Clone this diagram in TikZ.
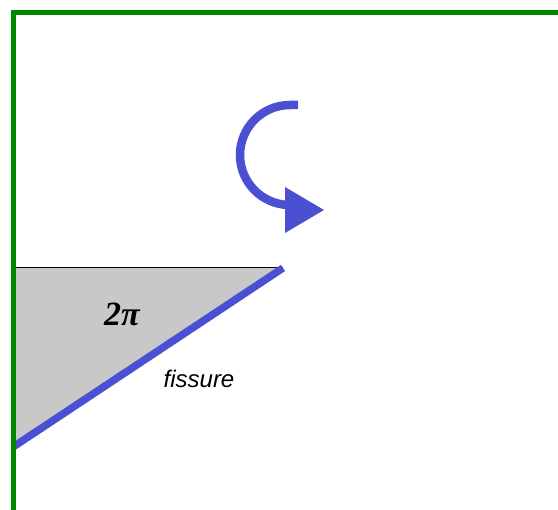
\documentclass[tikz,border=0pt]{standalone}
\usepackage{fontspec}
\setmainfont{Liberation Serif}
\newfontfamily\arialfont{Liberation Sans}
\definecolor{framegreen}{HTML}{008800}
\definecolor{fissblue}{HTML}{4B50D2}
\definecolor{wedgegray}{HTML}{C8C8C8}
\tikzset{
  frameline/.style={draw=framegreen, line width=5pt},
  fissline/.style={draw=fissblue, line width=7.5pt},
  rotline/.style={draw=fissblue, line width=8.5pt},
  labeltext/.style={inner sep=0pt, anchor=center}
}
\begin{document}
\begin{tikzpicture}[x=1pt,y=-1pt]
\useasboundingbox (0,0) rectangle (558,510);
\fill[white] (0,0) rectangle (558,510);
% wedge
\coordinate (tl) at (13,268);
\coordinate (tr) at (283,268);
\coordinate (bl) at (13,447);
\fill[wedgegray] (tl) -- (tr) -- (bl) -- cycle;
\draw[black, line width=1pt] (tl) -- (tr);
\draw[fissline] (tr) -- (bl);
% frame
\draw[frameline] (13,520) -- (13,13) -- (570,13);
% rotation arrow
\draw[rotline] (298,105) -- (290,105) arc[start angle=-90, end angle=-268, radius=50] -- (288,206);
\fill[fissblue] (285,187) -- (324,210) -- (285,233) -- cycle;
% labels
\node[labeltext] (twopi) at (122,314) {\fontsize{34}{38}\selectfont\bfseries\itshape 2π};
\node[labeltext] (fiss) at (199,379) {\arialfont\fontsize{24}{28}\selectfont\itshape fissure};
\end{tikzpicture}
\end{document}
